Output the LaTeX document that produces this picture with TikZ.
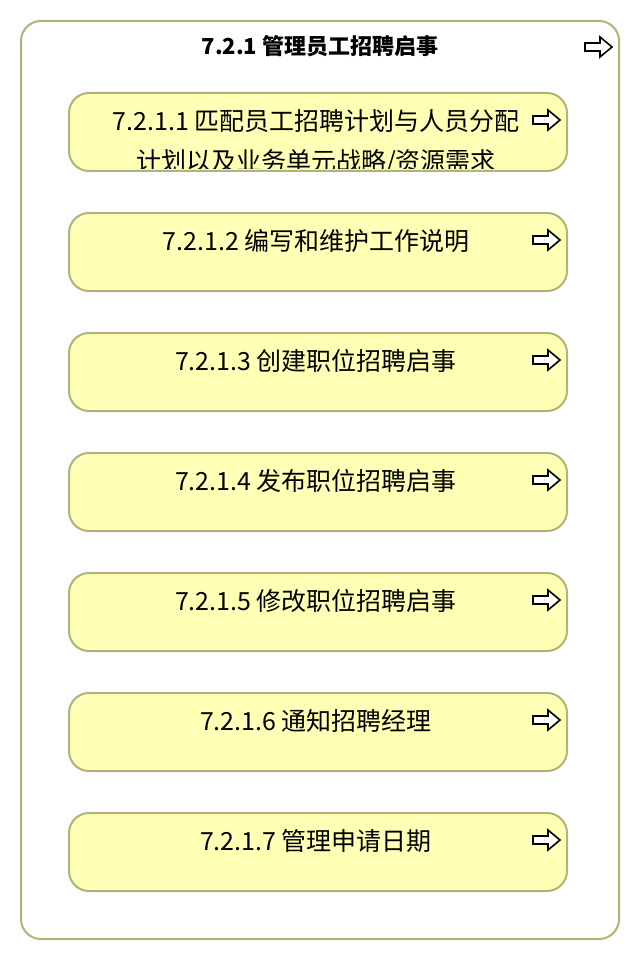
\documentclass[tikz,border=0pt]{standalone}
\usepackage{fontspec}
\setmainfont{Noto Sans CJK SC}
\begin{document}
\begin{tikzpicture}[x=1pt,y=-1pt,
  outerbox/.style={draw=boxline,line width=2pt,fill=white,rounded corners=20pt},
  stepbox/.style={draw=boxline,line width=2pt,fill=boxfill,rounded corners=20pt,minimum width=498pt,minimum height=78pt,inner sep=0pt},
  label/.style={font=\fontsize{25}{40}\selectfont,align=center,inner sep=0pt},
  ttl/.style={font=\fontsize{22}{26}\selectfont\bfseries,inner sep=0pt},
  icon/.style={draw=black,line width=1.6pt,fill=white,line join=miter}]
\definecolor{boxline}{HTML}{B2B27A}
\definecolor{boxfill}{HTML}{FFFFB5}
\useasboundingbox (0,0) rectangle (640,960);
\fill[white] (0,0) rectangle (640,960);
\node[outerbox,minimum width=598pt,minimum height=918pt,inner sep=0pt] (outer) at (320,480) {};
\node[ttl] (title) at (320,46) {7.2.1 管理员工招聘启事};
\newcommand{\arrowicon}[2]{%
  \draw[icon] (#1,#2-4) -- (#1+15,#2-4) -- (#1+15,#2-10) -- (#1+27,#2) -- (#1+15,#2+10) -- (#1+15,#2+4) -- (#1,#2+4) -- cycle;}
\arrowicon{585}{47}
\foreach \i/\y in {1/132,2/252,3/372,4/492,5/612,6/732,7/852}{
  \node[stepbox] (b\i) at (318,\y) {};
  \arrowicon{533}{\y-12}
}
\begin{scope}
  \clip[rounded corners=20pt] (70,94) rectangle (566,169);
  \node[label] (t1) at (316,142) {7.2.1.1 匹配员工招聘计划与人员分配\\计划以及业务单元战略/资源需求};
\end{scope}
\node[label] (t2) at (316,241) {7.2.1.2 编写和维护工作说明};
\node[label] (t3) at (316,361) {7.2.1.3 创建职位招聘启事};
\node[label] (t4) at (316,481) {7.2.1.4 发布职位招聘启事};
\node[label] (t5) at (316,601) {7.2.1.5 修改职位招聘启事};
\node[label] (t6) at (316,721) {7.2.1.6 通知招聘经理};
\node[label] (t7) at (316,841) {7.2.1.7 管理申请日期};
\end{tikzpicture}
\end{document}
